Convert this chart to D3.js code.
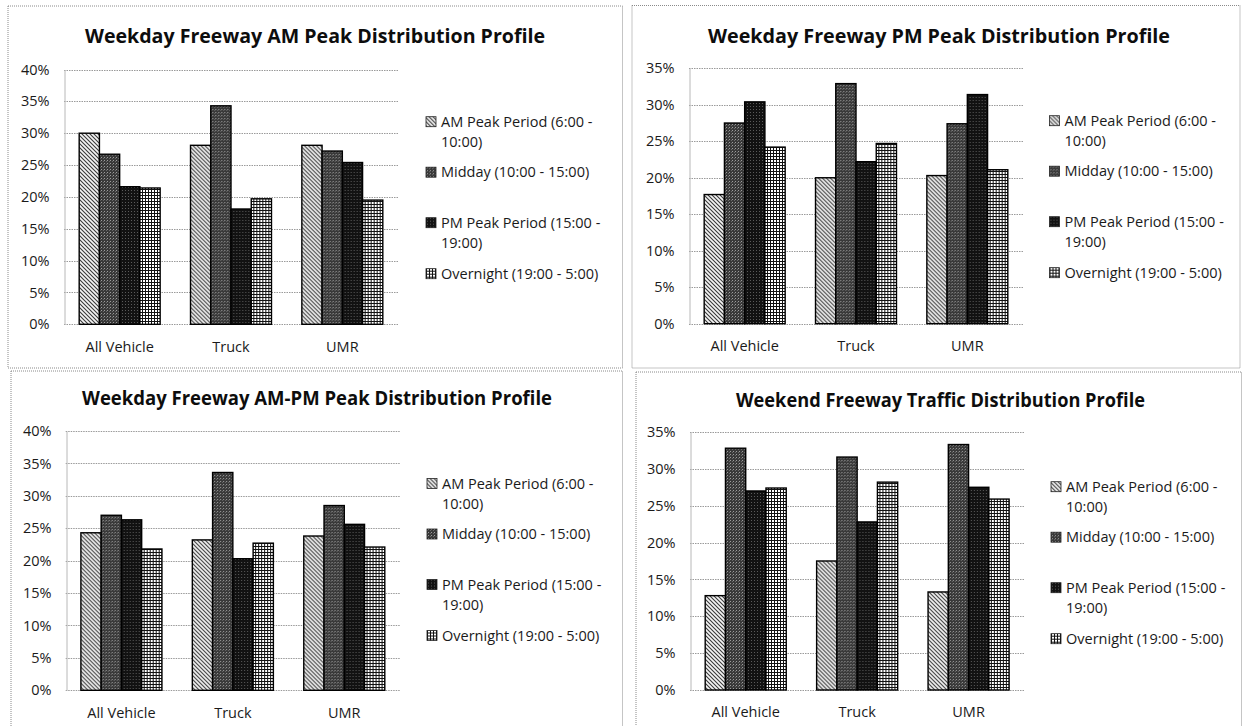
<!DOCTYPE html>
<html>
<head>
<meta charset="utf-8">
<script src="https://cdn.jsdelivr.net/npm/d3@7"></script>
<style>
  body { margin: 0; background: #fff; }
  svg { display: block; }
</style>
</head>
<body>
<svg id="chart" width="1245" height="726"></svg>
<script>
// ---- data -------------------------------------------------------------
const categories = ["All Vehicle", "Truck", "UMR"];
const seriesNames = [
  "AM Peak Period (6:00 - 10:00)",
  "Midday (10:00 - 15:00)",
  "PM Peak Period (15:00 - 19:00)",
  "Overnight (19:00 - 5:00)"
];
// legend labels as they wrap in the legend box
const legendLines = [
  ["AM Peak Period (6:00 -", "10:00)"],
  ["Midday (10:00 - 15:00)"],
  ["PM Peak Period (15:00 -", "19:00)"],
  ["Overnight (19:00 - 5:00)"]
];

// share of daily volume (%) per category: [AM, Midday, PM, Overnight]
const weekdayAmPeak   = [[30.0, 26.7, 21.6, 21.4], [28.1, 34.3, 18.1, 19.7], [28.1, 27.2, 25.4, 19.5]];
const weekdayPmPeak   = [[17.7, 27.5, 30.4, 24.2], [20.0, 32.9, 22.2, 24.7], [20.3, 27.4, 31.4, 21.1]];
const weekdayAmPmPeak = [[24.3, 27.0, 26.3, 21.8], [23.2, 33.6, 20.3, 22.7], [23.8, 28.5, 25.6, 22.1]];
const weekendTraffic  = [[12.8, 32.8, 27.0, 27.4], [17.5, 31.6, 22.8, 28.2], [13.3, 33.3, 27.5, 25.9]];

const ticksTo40 = [0, 5, 10, 15, 20, 25, 30, 35, 40];
const ticksTo35 = [0, 5, 10, 15, 20, 25, 30, 35];

const titles = [
  "Weekday Freeway AM Peak Distribution Profile",
  "Weekday Freeway PM Peak Distribution Profile",
  "Weekday Freeway AM-PM Peak Distribution Profile",
  "Weekend Freeway Traffic Distribution Profile"
];

// ---- layout -----------------------------------------------------------
const panels = [
  { title: titles[0], data: weekdayAmPeak,   ticks: ticksTo40,
    box: [8, 6, 622.5, 368],   plot: [64, 69.5, 398, 324.3],
    titleX: 315, titleY: 42.5, titleW: 460, legendX: 426, legendY: 121.7 },
  { title: titles[1], data: weekdayPmPeak,   ticks: ticksTo35,
    box: [632, 5.5, 1240, 368], plot: [689, 68.3, 1023, 323.7],
    titleX: 939, titleY: 43, titleW: 462, legendX: 1049.5, legendY: 120.7 },
  { title: titles[2], data: weekdayAmPmPeak, ticks: ticksTo40,
    box: [11, 371, 622.5, 735], plot: [65.7, 431, 400, 690.3],
    titleX: 317, titleY: 405, titleW: 470, legendX: 427, legendY: 483.5 },
  { title: titles[3], data: weekendTraffic,  ticks: ticksTo35,
    box: [636, 372, 1241.5, 735], plot: [690, 432, 1024.3, 690],
    titleX: 940.5, titleY: 406.5, titleW: 409, legendX: 1051, legendY: 486.7 }
];

const FONT = "'Open Sans', 'Noto Sans', sans-serif";
const svg = d3.select("#chart");
const defs = svg.append("defs");

// ---- fill patterns ------------------------------------------------------
function pattern(id, size, draw) {
  const p = defs.append("pattern")
    .attr("id", id)
    .attr("patternUnits", "userSpaceOnUse")
    .attr("width", size).attr("height", size);
  draw(p, size);
}
// light diagonal hatch
pattern("fillAm", 4, (p, s) => {
  p.append("rect").attr("width", s).attr("height", s).attr("fill", "#f4f4f4");
  p.append("path").attr("d", "M-1,-1L5,5M-1,3L1,5M3,-1L5,1")
    .attr("stroke", "#3a3a3a").attr("stroke-width", 1.1);
});
// dark grey speckle
pattern("fillMid", 3, (p, s) => {
  p.append("rect").attr("width", s).attr("height", s).attr("fill", "#393939");
  p.append("rect").attr("x", 1).attr("y", 1).attr("width", 1).attr("height", 1).attr("fill", "#9c9c9c");
  p.append("rect").attr("x", 0).attr("y", 2).attr("width", 1).attr("height", 1).attr("fill", "#6a6a6a");
});
// near-black speckle
pattern("fillPm", 3, (p, s) => {
  p.append("rect").attr("width", s).attr("height", s).attr("fill", "#121212");
  p.append("rect").attr("x", 1).attr("y", 1).attr("width", 1).attr("height", 1).attr("fill", "#5a5a5a");
});
// small square grid
pattern("fillNight", 3, (p, s) => {
  p.append("rect").attr("width", s).attr("height", s).attr("fill", "#ffffff");
  p.append("rect").attr("x", 0).attr("y", 0).attr("width", s).attr("height", 1).attr("fill", "#111");
  p.append("rect").attr("x", 0).attr("y", 0).attr("width", 1).attr("height", s).attr("fill", "#111");
});
const fills = ["url(#fillAm)", "url(#fillMid)", "url(#fillPm)", "url(#fillNight)"];

// ---- one chart panel ----------------------------------------------------
function drawPanel(cfg) {
  const g = svg.append("g");
  const [L, T, R, B] = cfg.plot;
  const yMax = d3.max(cfg.ticks);

  // panel frame
  g.append("rect")
    .attr("x", cfg.box[0]).attr("y", cfg.box[1])
    .attr("width", cfg.box[2] - cfg.box[0]).attr("height", cfg.box[3] - cfg.box[1])
    .attr("fill", "#fff").attr("stroke", "#8a8a8a")
    .attr("stroke-width", 1).attr("stroke-dasharray", "1,1");

  const y = d3.scaleLinear().domain([0, yMax]).range([B, T]);
  const x0 = d3.scaleBand().domain(categories).range([L, R]);
  const x1 = d3.scaleBand().domain(d3.range(seriesNames.length))
    .range([0, x0.bandwidth()]).paddingInner(0).paddingOuter(0.75);

  // gridlines
  g.append("g").selectAll("line").data(cfg.ticks).join("line")
    .attr("x1", L).attr("x2", R)
    .attr("y1", d => Math.round(y(d)) + 0.5).attr("y2", d => Math.round(y(d)) + 0.5)
    .attr("stroke", "#9a9a9a").attr("stroke-width", 1)
    .attr("stroke-dasharray", "1.5,1");

  // value axis
  const yAxis = g.append("g")
    .attr("transform", `translate(${Math.round(L) + 0.5},0)`)
    .call(d3.axisLeft(y).tickValues(cfg.ticks).tickSize(0).tickSizeOuter(0)
      .tickPadding(15).tickFormat(d => d + "%"))
    .attr("font-family", FONT).attr("font-size", 14.5).attr("color", "#1a1a1a");
  yAxis.select(".domain").attr("stroke", "#b8b8b8");

  // category axis
  const xAxis = g.append("g")
    .attr("transform", `translate(0,${B})`)
    .call(d3.axisBottom(x0).tickSize(0).tickSizeOuter(0).tickPadding(17))
    .attr("font-family", FONT).attr("font-size", 14.5).attr("color", "#1a1a1a");
  xAxis.select(".domain").remove();

  // bars
  const groups = g.append("g").selectAll("g")
    .data(cfg.data.map((vals, i) => ({ cat: categories[i], vals })))
    .join("g")
    .attr("transform", d => `translate(${x0(d.cat)},0)`);
  groups.selectAll("rect")
    .data(d => d.vals.map((v, j) => ({ v, j })))
    .join("rect")
    .attr("x", d => x1(d.j))
    .attr("width", x1.bandwidth())
    .attr("y", d => y(d.v))
    .attr("height", d => B - y(d.v))
    .attr("fill", d => fills[d.j])
    .attr("stroke", "#000").attr("stroke-width", 1.4);

  // title
  g.append("text")
    .attr("x", cfg.titleX).attr("y", cfg.titleY)
    .attr("text-anchor", "middle")
    .attr("font-family", FONT).attr("font-weight", 700).attr("font-size", 20)
    .attr("textLength", cfg.titleW).attr("lengthAdjust", "spacingAndGlyphs")
    .attr("fill", "#0d0d0d")
    .text(cfg.title);

  // legend
  const itemOffsets = [0, 50.5, 101, 152];
  const leg = g.append("g").attr("transform", `translate(${cfg.legendX},${cfg.legendY})`);
  legendLines.forEach((lines, i) => {
    const item = leg.append("g").attr("transform", `translate(0,${itemOffsets[i]})`);
    item.append("rect")
      .attr("x", 0).attr("y", -5).attr("width", 10).attr("height", 10)
      .attr("fill", fills[i]).attr("stroke", "#222").attr("stroke-width", 0.8);
    item.selectAll("text").data(lines).join("text")
      .attr("x", 15).attr("y", (d, k) => k * 20)
      .attr("dy", "0.36em")
      .attr("font-family", FONT).attr("font-size", 14.5).attr("fill", "#1a1a1a")
      .text(d => d);
  });
}

panels.forEach(drawPanel);
</script>
</body>
</html>
